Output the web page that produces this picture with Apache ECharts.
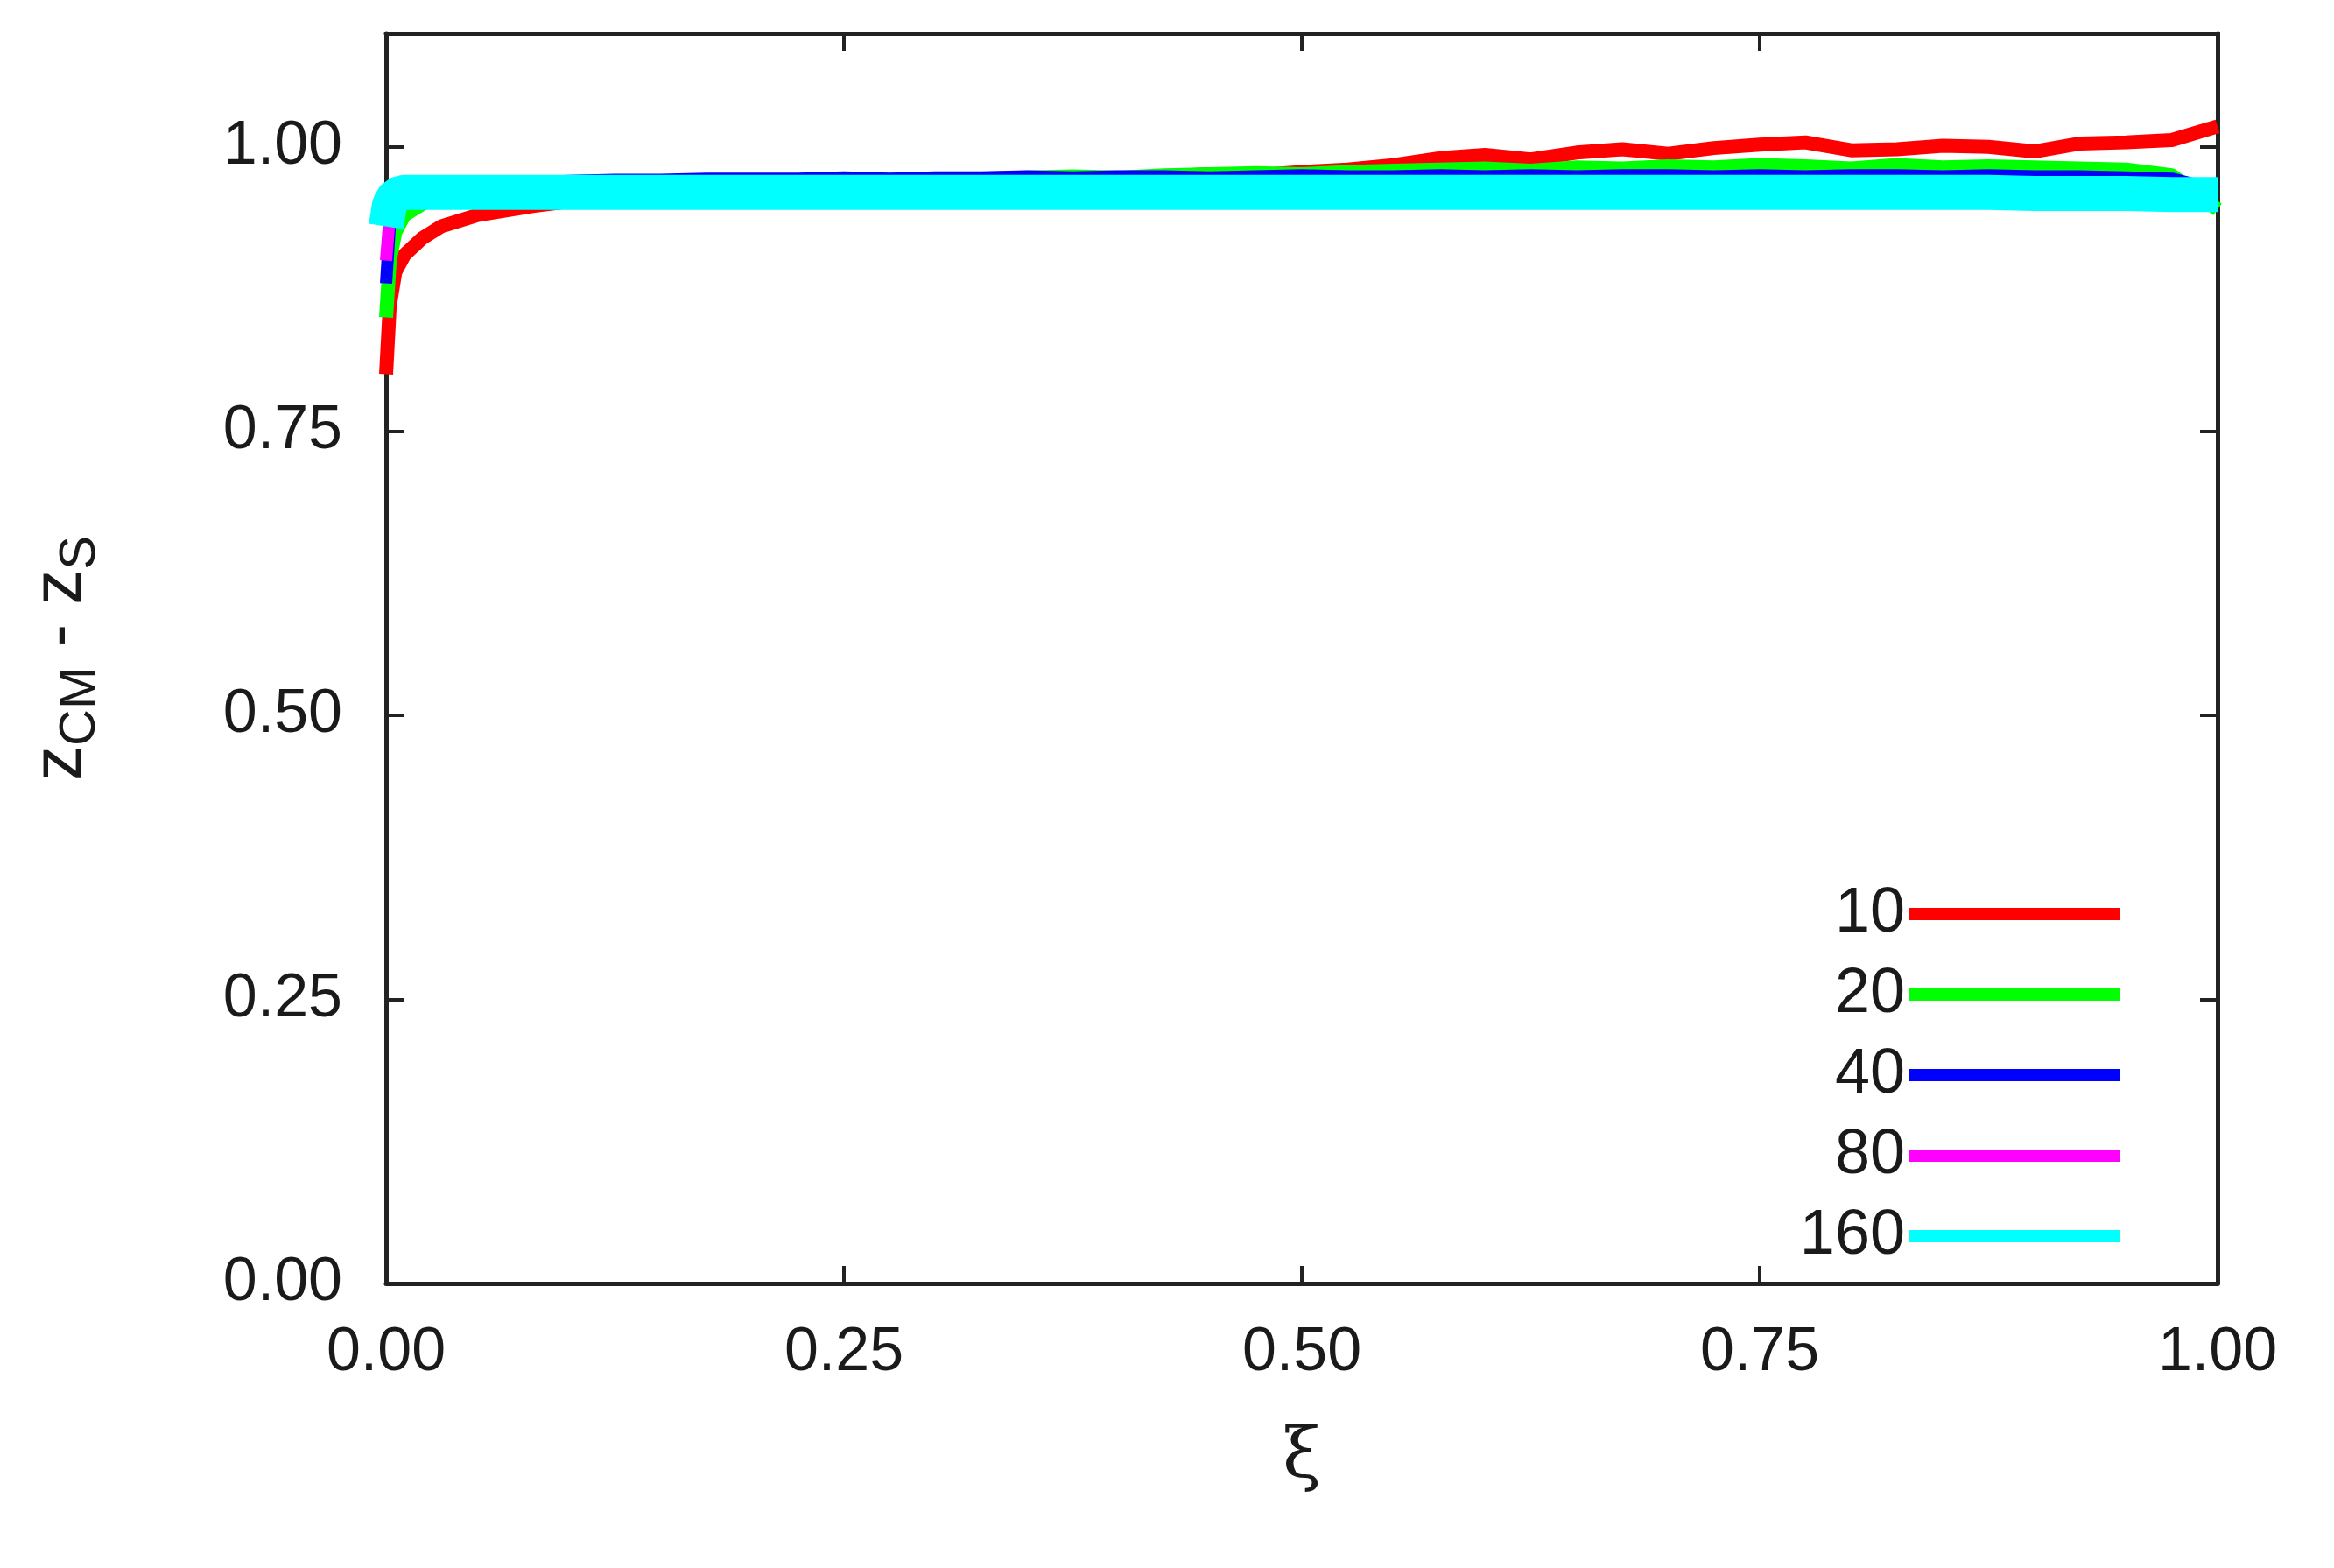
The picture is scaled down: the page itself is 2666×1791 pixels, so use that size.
<!DOCTYPE html>
<html>
<head>
<meta charset="utf-8">
<script src="https://cdn.jsdelivr.net/npm/echarts@6/dist/echarts.min.js"></script>
<style>html,body{margin:0;padding:0;background:#fff}#chart{width:2666px;height:1791px}</style>
</head>
<body>
<div id="chart"></div>
<script>
// 横轴 xi
var xi = [0, 0.002, 0.005, 0.01, 0.02, 0.03, 0.05, 0.08, 0.1,
	0.125, 0.15, 0.175, 0.2, 0.225, 0.25, 0.275, 0.3, 0.325, 0.35, 0.375, 0.4,
	0.425, 0.45, 0.475, 0.5, 0.525, 0.55, 0.575, 0.6, 0.625, 0.65, 0.675, 0.7,
	0.725, 0.75, 0.775, 0.8, 0.825, 0.85, 0.875, 0.9, 0.925, 0.95, 0.975, 1.0];
var names = ['10', '20', '40', '80', '160'];
var colors = ['#ff0000', '#00ff00', '#0000ff', '#ff00ff', '#00ffff'];
var y10 = [0.80, 0.86, 0.89, 0.905, 0.92, 0.93, 0.94, 0.948, 0.952,
	0.955, 0.957, 0.958, 0.960, 0.962, 0.963, 0.966, 0.965, 0.968, 0.970, 0.972, 0.971,
	0.974, 0.976, 0.975, 0.978, 0.980, 0.984, 0.990, 0.993, 0.989, 0.995, 0.998, 0.994,
	0.999, 1.002, 1.004, 0.997, 0.998, 1.001, 1.000, 0.996, 1.003, 1.004, 1.006, 1.018];
var y20 = [0.85, 0.90, 0.925, 0.94, 0.95, 0.955, 0.96, 0.963, 0.965,
	0.966, 0.967, 0.968, 0.968, 0.969, 0.970, 0.971, 0.971, 0.972, 0.973, 0.974, 0.973,
	0.975, 0.976, 0.977, 0.976, 0.978, 0.979, 0.980, 0.981, 0.979, 0.982, 0.981, 0.983,
	0.982, 0.984, 0.983, 0.981, 0.984, 0.982, 0.983, 0.982, 0.981, 0.980, 0.975, 0.945];
var y40 = [0.88, 0.93, 0.95, 0.96, 0.965, 0.967, 0.968, 0.969, 0.970,
	0.971, 0.971, 0.972, 0.972, 0.972, 0.973, 0.972, 0.973, 0.973, 0.974, 0.973, 0.974,
	0.974, 0.973, 0.974, 0.975, 0.974, 0.974, 0.975, 0.974, 0.975, 0.974, 0.975, 0.975,
	0.974, 0.975, 0.974, 0.975, 0.975, 0.974, 0.975, 0.974, 0.974, 0.973, 0.972, 0.962];
var y80 = [0.90, 0.94, 0.955, 0.96, 0.962, 0.962, 0.963, 0.963, 0.962,
	0.963, 0.962, 0.963, 0.962, 0.963, 0.962, 0.962, 0.963, 0.962, 0.963, 0.962, 0.962,
	0.963, 0.962, 0.962, 0.963, 0.962, 0.962, 0.963, 0.962, 0.962, 0.963, 0.962, 0.962,
	0.961, 0.962, 0.962, 0.961, 0.962, 0.961, 0.962, 0.961, 0.961, 0.960, 0.960, 0.958];
var y160 = [0.93, 0.95, 0.958, 0.960, 0.960, 0.960, 0.960, 0.960, 0.960,
	0.960, 0.960, 0.960, 0.960, 0.960, 0.960, 0.960, 0.960, 0.960, 0.960, 0.960, 0.960,
	0.960, 0.960, 0.960, 0.960, 0.960, 0.960, 0.960, 0.960, 0.960, 0.960, 0.960, 0.960,
	0.960, 0.960, 0.960, 0.960, 0.960, 0.960, 0.960, 0.959, 0.959, 0.959, 0.958, 0.958];

var ys = [y10, y20, y40, y80, y160];
var widths = [16, 16, 14, 14, 40];
var font = 'Liberation Sans';
var lab = {fontSize: 70, fontFamily: font, color: '#1a1a1a'};

function pairs(arr) {
	return xi.map(function(x, i) { return [x, arr[i]]; });
}
var series = names.map(function(n, i) {
	return {
		name: n, type: 'line', data: pairs(ys[i]), showSymbol: false,
		lineStyle: {color: colors[i], width: widths[i], cap: 'butt'}, itemStyle: {color: colors[i]},
		z: 2 + i, animation: false
	};
});

var tickOnly = {show: true, inside: true, length: 20, lineStyle: {color: '#222', width: 4}};
var axLine = {show: true, onZero: false, lineStyle: {color: '#222', width: 5}};
function fmt(v) { return v > 1.05 ? '' : v.toFixed(2); }
var option = {
	backgroundColor: '#fff',
	grid: {left: 441, right: 133, top: 38, bottom: 325},
	legend: {
		orient: 'vertical', right: 240, top: 1003, align: 'right',
		icon: 'rect', itemWidth: 240, itemHeight: 14, itemGap: 20,
		textStyle: {fontSize: 72, fontFamily: font, color: '#1a1a1a', width: 150, align: 'right', lineHeight: 70},
		data: names
	},
	xAxis: [{
		type: 'value', min: 0, max: 1, interval: 0.25,
		axisLine: axLine, axisTick: tickOnly, splitLine: {show: false},
		axisLabel: Object.assign({margin: 45, formatter: fmt}, lab),
		name: 'ξ', nameLocation: 'middle', nameGap: 160,
		nameTextStyle: {fontSize: 80, fontFamily: 'DejaVu Serif', color: '#1a1a1a'}
	}, {
		type: 'value', min: 0, max: 1, interval: 0.25, position: 'top',
		axisLine: axLine, axisTick: tickOnly, axisLabel: {show: false}, splitLine: {show: false}
	}],
	yAxis: [{
		type: 'value', min: 0, max: 1.1, interval: 0.25,
		axisLine: axLine, axisTick: tickOnly, splitLine: {show: false},
		axisLabel: Object.assign({margin: 50, formatter: fmt}, lab),
		name: '{m|z}{s|CM}{m| - z}{s|S}', nameLocation: 'middle', nameGap: 320,
		nameTextStyle: {
			rich: {
				m: {fontSize: 80, fontFamily: font, color: '#1a1a1a'},
				s: {fontSize: 58, fontFamily: font, color: '#1a1a1a', padding: [44, 0, 0, 0]}
			}
		}
	}, {
		type: 'value', min: 0, max: 1.1, interval: 0.25, position: 'right',
		axisLine: axLine, axisTick: tickOnly, axisLabel: {show: false}, splitLine: {show: false}
	}],
	series: series
};
var chart = echarts.init(document.getElementById('chart'));
chart.setOption(option);
</script>
</body>
</html>
